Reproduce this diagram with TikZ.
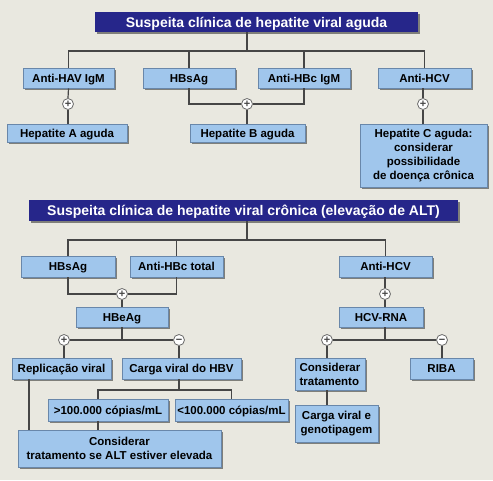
\documentclass[tikz,border=0pt]{standalone}
\usepackage{fontspec}
\setmainfont{Liberation Sans}
\usetikzlibrary{shadows}
\definecolor{bg}{RGB}{233,232,224}
\definecolor{boxfill}{RGB}{160,198,236}
\definecolor{boxdraw}{RGB}{105,135,170}
\definecolor{navy}{RGB}{38,38,138}
\definecolor{conn}{RGB}{70,70,70}
\begin{document}
\begin{tikzpicture}[x=1pt,y=-1pt,
  bx/.style={draw=boxdraw, fill=boxfill, line width=0.8pt, inner sep=0pt,
    text height=8.3pt, text depth=0pt,
    font=\bfseries\fontsize{11.5}{14}\selectfont,
    drop shadow={shadow xshift=1.5pt,shadow yshift=-1.5pt,fill=black,opacity=.45}},
  mbx/.style={bx, text height=, text depth=, align=center},
  ttl/.style={fill=navy, text=white, inner sep=0pt, text height=10pt, text depth=0pt,
    font=\bfseries\fontsize{14}{16}\selectfont,
    drop shadow={shadow xshift=1.5pt,shadow yshift=-1.5pt,fill=black,opacity=.45}},
  pm/.style={circle, draw=conn!80, fill=white, line width=0.8pt, minimum size=11pt, inner sep=0pt,
    font=\bfseries\fontsize{11}{11}\selectfont, text=conn, text height=7pt, text depth=0pt},
  ln/.style={draw=conn, line width=1.2pt}]
\useasboundingbox[fill=bg] (0,0) rectangle (493,480);

% ---------- acute ----------
\node[ttl, minimum width=323pt, minimum height=20pt] (t1) at (256.5,22) {Suspeita clínica de hepatite viral aguda};
\node[bx, minimum width=91pt, minimum height=20pt] (hav) at (68.5,78) {Anti-HAV IgM};
\node[bx, minimum width=92pt, minimum height=20pt] (hbs1) at (189,78) {HBsAg};
\node[bx, minimum width=92pt, minimum height=20pt] (hbc1) at (304,78) {Anti-HBc IgM};
\node[bx, minimum width=93pt, minimum height=20pt] (hcv1) at (424.5,78) {Anti-HCV};
\node[pm] (pA) at (68,104) {+};
\node[pm] (pB) at (247,104) {+};
\node[pm] (pC) at (423,104) {+};
\node[bx, minimum width=120pt, minimum height=18pt] (hepA) at (67,133) {Hepatite A aguda};
\node[bx, minimum width=115pt, minimum height=18pt] (hepB) at (247.5,133) {Hepatite B aguda};
\node[mbx, minimum width=127pt, minimum height=63pt] (hepC) at (423.5,155.5)
  {Hepatite C aguda:\\considerar\\possibilidade\\de doença crônica};

\coordinate (t1d) at (247,32);
\coordinate (j1) at (247,51);
\draw[ln] (t1d) -- (j1);
\draw[ln] (hav.north) |- (j1) -| (hcv1.north);
\draw[ln] (hbs1.north) -- (hbs1.north |- j1);
\draw[ln] (hbc1.north) -- (hbc1.north |- j1);
\draw[ln] (hav.south) -- (pA.north);
\draw[ln] (pA.south) -- (hepA.north -| pA);
\draw[ln] (hbs1.south) |- (pB.west);
\draw[ln] (hbc1.south) |- (pB.east);
\draw[ln] (pB.south) -- (hepB.north -| pB);
\draw[ln] (hcv1.south -| pC) -- (pC.north);
\draw[ln] (pC.south) -- (hepC.north -| pC);

% ---------- chronic ----------
\node[ttl, minimum width=429pt, minimum height=21pt] (t2) at (243.5,210.5) {Suspeita clínica de hepatite viral crônica (elevação de ALT)};
\node[bx, minimum width=94pt, minimum height=21pt] (hbs2) at (68,266.5) {HBsAg};
\node[bx, minimum width=93pt, minimum height=21pt] (hbct) at (176.5,266.5) {Anti-HBc total};
\node[bx, minimum width=93pt, minimum height=21pt] (hcv2) at (385.5,266.5) {Anti-HCV};
\node[pm] (p1) at (122,294) {+};
\node[pm] (p2) at (385,294) {+};
\node[bx, minimum width=92pt, minimum height=20pt] (hbe) at (122,317) {HBeAg};
\node[bx, minimum width=84pt, minimum height=20pt] (rna) at (381,317) {HCV-RNA};
\node[pm] (p3) at (64,340) {+};
\node[pm] (m1) at (179,340) {−};
\node[pm] (p4) at (327,340) {+};
\node[pm] (m2) at (442,340) {−};
\node[bx, minimum width=99pt, minimum height=21pt] (rep) at (61.5,368.5) {Replicação viral};
\node[bx, minimum width=119pt, minimum height=21pt] (cvh) at (181.5,368.5) {Carga viral do HBV};
\node[bx, minimum width=120pt, minimum height=22pt] (gt) at (108,410) {>100.000 cópias/mL};
\node[bx, minimum width=113pt, minimum height=22pt] (lt) at (231.5,410) {<100.000 cópias/mL};
\node[mbx, minimum width=203pt, minimum height=37pt] (cons) at (119.5,448.5) {Considerar\\tratamento se ALT estiver elevada};
\node[mbx, minimum width=70pt, minimum height=32pt, align=left] (ctr) at (330,374) {Considerar\\tratamento};
\node[bx, minimum width=63pt, minimum height=21pt] (riba) at (441.5,368.5) {RIBA};
\node[mbx, minimum width=83pt, minimum height=37pt] (cvg) at (336.5,423.5) {Carga viral e\\genotipagem};

\coordinate (t2d) at (247,221);
\coordinate (j2) at (247,240);
\draw[ln] (t2d) -- (j2);
\draw[ln] (hbs2.north) |- (j2) -| (hcv2.north);
\draw[ln] (hbct.north) -- (hbct.north |- j2);
\draw[ln] (hbs2.south) |- (p1.west);
\draw[ln] (hbct.south) |- (p1.east);
\draw[ln] (p1.south) -- (hbe.north);
\draw[ln] (hcv2.south -| p2) -- (p2.north);
\draw[ln] (p2.south) -- (rna.north -| p2);
% HBeAg branch
\coordinate (j3) at (122,340);
\draw[ln] (hbe.south) -- (j3);
\draw[ln] (p3.east) -- (m1.west);
\draw[ln] (p3.south) -- (rep.north -| p3);
\draw[ln] (m1.south) -- (cvh.north -| m1);
\coordinate (j4) at (179,390);
\draw[ln] (cvh.south -| j4) -- (j4);
\draw[ln] (gt.north -| 98,0) |- (j4) -| (lt.north);
\draw[ln] (rep.south -| 29,0) -- (cons.north -| 29,0);
\draw[ln] (gt.south -| 98,0) -- (cons.north -| 98,0);
% HCV-RNA branch
\draw[ln] (rna.south -| p2) -- (p2 |- p4);
\draw[ln] (p4.east) -- (m2.west);
\draw[ln] (p4.south) -- (ctr.north -| p4);
\draw[ln] (m2.south) -- (riba.north -| m2);
\draw[ln] (ctr.south -| p4) -- (cvg.north -| p4);
\end{tikzpicture}
\end{document}
